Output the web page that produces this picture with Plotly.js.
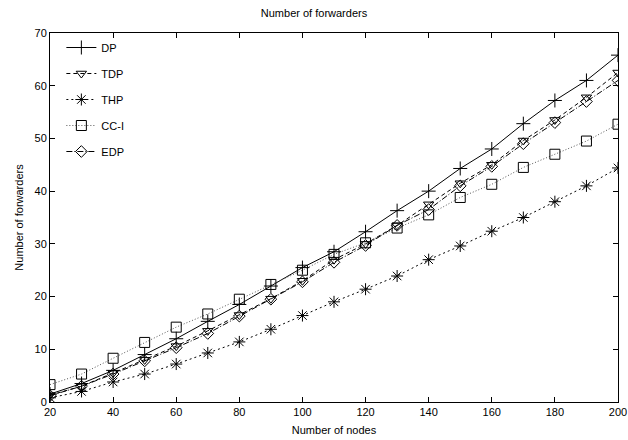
<!DOCTYPE html>
<html>
<head>
<meta charset="utf-8">
<script src="https://cdn.plot.ly/plotly-3.0.1.min.js"></script>
<style>html,body{margin:0;padding:0;background:#fff;}#chart{width:628px;height:440px;}</style>
</head>
<body>
<div id="chart"></div>
<script>
const nodes = [20,30,40,50,60,70,80,90,100,110,120,130,140,150,160,170,180,190,200];
const dp   = [1.5,3.5,6.0,9.0,12.0,15.3,18.5,22.0,25.5,28.5,32.3,36.3,40.0,44.3,48.0,52.8,57.2,61.0,65.8];
const tdp  = [1.3,3.0,5.5,8.0,10.6,13.5,16.5,19.6,23.0,27.0,30.0,33.5,37.5,41.5,45.0,49.6,53.5,57.8,62.5];
const thp  = [0.8,2.0,3.8,5.3,7.2,9.3,11.4,13.8,16.4,19.0,21.4,23.9,27.0,29.6,32.4,35.0,38.0,41.0,44.4];
const cci  = [3.3,5.3,8.3,11.3,14.2,16.7,19.5,22.3,25.0,28.0,30.2,33.0,35.5,38.8,41.3,44.5,47.0,49.5,52.7];
const edp  = [1.2,3.0,5.3,7.8,10.3,13.0,16.3,19.5,22.8,26.5,29.7,33.5,36.5,41.0,44.7,49.0,53.0,57.0,61.0];
const seriesNames = ['DP','TDP','THP','CC-I','EDP'];
const xTicks = [20,40,60,80,100,120,140,160,180,200];
const yTicks = [0,10,20,30,40,50,60,70];

const styles = [
  {sym:'cross-thin-open', dash:'solid', color:'#000', size:10, lc:'#000'},
  {sym:'triangle-down-open', dash:'4px,3px', color:'#000', size:9, lc:'#000'},
  {sym:'asterisk-open', dash:'2px,3px', color:'#000', size:10, lc:'#000'},
  {sym:'square-open', dash:'1px,2px', color:'#000', size:10, lc:'#555'},
  {sym:'diamond-open', dash:'6px,2px,1px,2px', color:'#000', size:9, lc:'#000'}
];
const data = [dp,tdp,thp,cci,edp].map((ys,i)=>({
  x: nodes, y: ys, name: seriesNames[i], type:'scatter', mode:'lines+markers',
  legendgroup: 'g'+i,
  line:{color:styles[i].lc, width:1, dash:styles[i].dash},
  marker:{symbol:styles[i].sym, size:styles[i].size, color:styles[i].color, line:{width:1, color:styles[i].color}}
}));

const axisCommon = {
  showline:true, mirror:'ticks', linecolor:'#000', linewidth:1,
  ticks:'inside', ticklen:5, tickcolor:'#000', showgrid:false, zeroline:false,
  tickfont:{family:'Liberation Sans, Arial, sans-serif', size:11, color:'#000'}
};
const layout = {
  width:628, height:440,
  margin:{l:50, r:10, t:33, b:38},
  paper_bgcolor:'#fff', plot_bgcolor:'#fff',
  font:{family:'Liberation Sans, Arial, sans-serif', size:11, color:'#000'},
  title:{text:'Number of forwarders', x:0.5, xanchor:'center', y:0.98, yanchor:'top', font:{size:11}},
  xaxis: Object.assign({}, axisCommon, {range:[20,200], tickvals:xTicks, ticktext:xTicks.map(String),
    title:{text:'Number of nodes', standoff:9, font:{size:11}}}),
  yaxis: Object.assign({}, axisCommon, {range:[0,70], tickvals:yTicks, ticktext:yTicks.map(String),
    title:{text:'Number of forwarders', standoff:8, font:{size:11}}}),
  showlegend:true,
  legend:{x:0.02, y:1.0, xanchor:'left', yanchor:'top', bgcolor:'rgba(0,0,0,0)', borderwidth:0,
    traceorder:'grouped', tracegroupgap:7, font:{size:11}}
};
Plotly.newPlot('chart', data, layout, {displayModeBar:false, staticPlot:true});
</script>
</body>
</html>
